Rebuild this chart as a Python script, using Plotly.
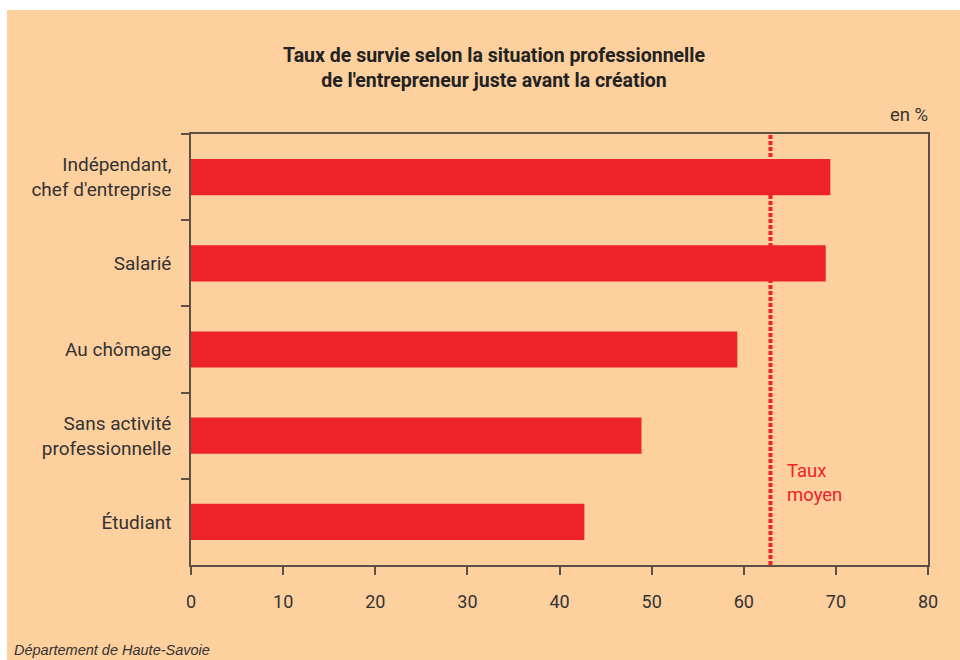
import plotly.graph_objects as go

categories = ["Indépendant,<br>chef d'entreprise", "Salarié", "Au chômage",
              "Sans activité<br>professionnelle", "Étudiant"]
values = [69.4, 68.9, 59.3, 48.9, 42.7]
taux_moyen = 62.9
x_ticks = [0, 10, 20, 30, 40, 50, 60, 70, 80]

BG = "#FDD09E"
RED = "#EE2229"
AXIS = "#5a5048"
FONT = "Roboto, Liberation Sans, Arial, sans-serif"

fig = go.Figure()
fig.add_trace(go.Bar(
    y=categories, x=values, orientation="h",
    marker=dict(color=RED, line=dict(width=0)),
    width=0.42, hoverinfo="skip",
))

W, H = 960, 660
L, R, T, B = 191, 32, 134, 95
pw, ph = W - L - R, H - T - B

def px_x(p):
    return (p - L) / pw

def px_y(p):
    return (H - B - p) / ph

fig.add_shape(type="rect", xref="paper", yref="paper",
              x0=px_x(7), x1=px_x(960), y0=px_y(660), y1=px_y(10),
              fillcolor=BG, line=dict(width=0), layer="below")

fig.add_shape(type="line", xref="x", yref="paper",
              x0=taux_moyen, x1=taux_moyen, y0=0, y1=1,
              line=dict(color=RED, width=4, dash="4px,2px"), layer="above")

fig.add_annotation(xref="x", yref="paper", x=taux_moyen + 1.6, y=px_y(483),
                   text="Taux<br>moyen", showarrow=False, xanchor="left", yanchor="middle",
                   align="left", font=dict(family=FONT, size=18.5, color=RED))

fig.add_annotation(xref="paper", yref="paper", x=px_x(930), y=px_y(115),
                   text="en %", showarrow=False, xanchor="right", yanchor="middle",
                   font=dict(family=FONT, size=18.5, color="#333"))

fig.add_annotation(xref="paper", yref="paper", x=px_x(494), y=px_y(68),
                   text="<b>Taux de survie selon la situation professionnelle<br>de l'entrepreneur juste avant la création</b>",
                   showarrow=False, xanchor="center", yanchor="middle", align="center",
                   font=dict(family=FONT, size=19.5, color="#222"))

fig.add_annotation(xref="paper", yref="paper", x=px_x(12), y=px_y(650),
                   text="<i>Département de Haute-Savoie</i>",
                   showarrow=False, xanchor="left", yanchor="middle",
                   font=dict(family="Liberation Sans, Arial, sans-serif", size=14.5, color="#333"))

fig.update_layout(
    width=W, height=H,
    margin=dict(l=L, r=R, t=T, b=B, pad=0),
    paper_bgcolor="white",
    plot_bgcolor="rgba(0,0,0,0)",
    showlegend=False,
    font=dict(family=FONT, size=18, color="#333"),
    xaxis=dict(range=[0, 80], tickvals=x_ticks, ticks="outside", ticklen=8,
               tickcolor=AXIS, tickwidth=1.5, showline=True, linecolor=AXIS,
               linewidth=1.5, mirror=True, showgrid=False, zeroline=False,
               ticklabelstandoff=12, fixedrange=True),
    yaxis=dict(autorange="reversed", ticks="outside", ticklen=8, tickson="boundaries",
               tickcolor=AXIS, tickwidth=1.5, showline=True, linecolor=AXIS,
               linewidth=1.5, mirror=True, showgrid=False, zeroline=False,
               ticklabelstandoff=14, tickfont=dict(size=19), fixedrange=True),
)

fig.write_html("out.html")
